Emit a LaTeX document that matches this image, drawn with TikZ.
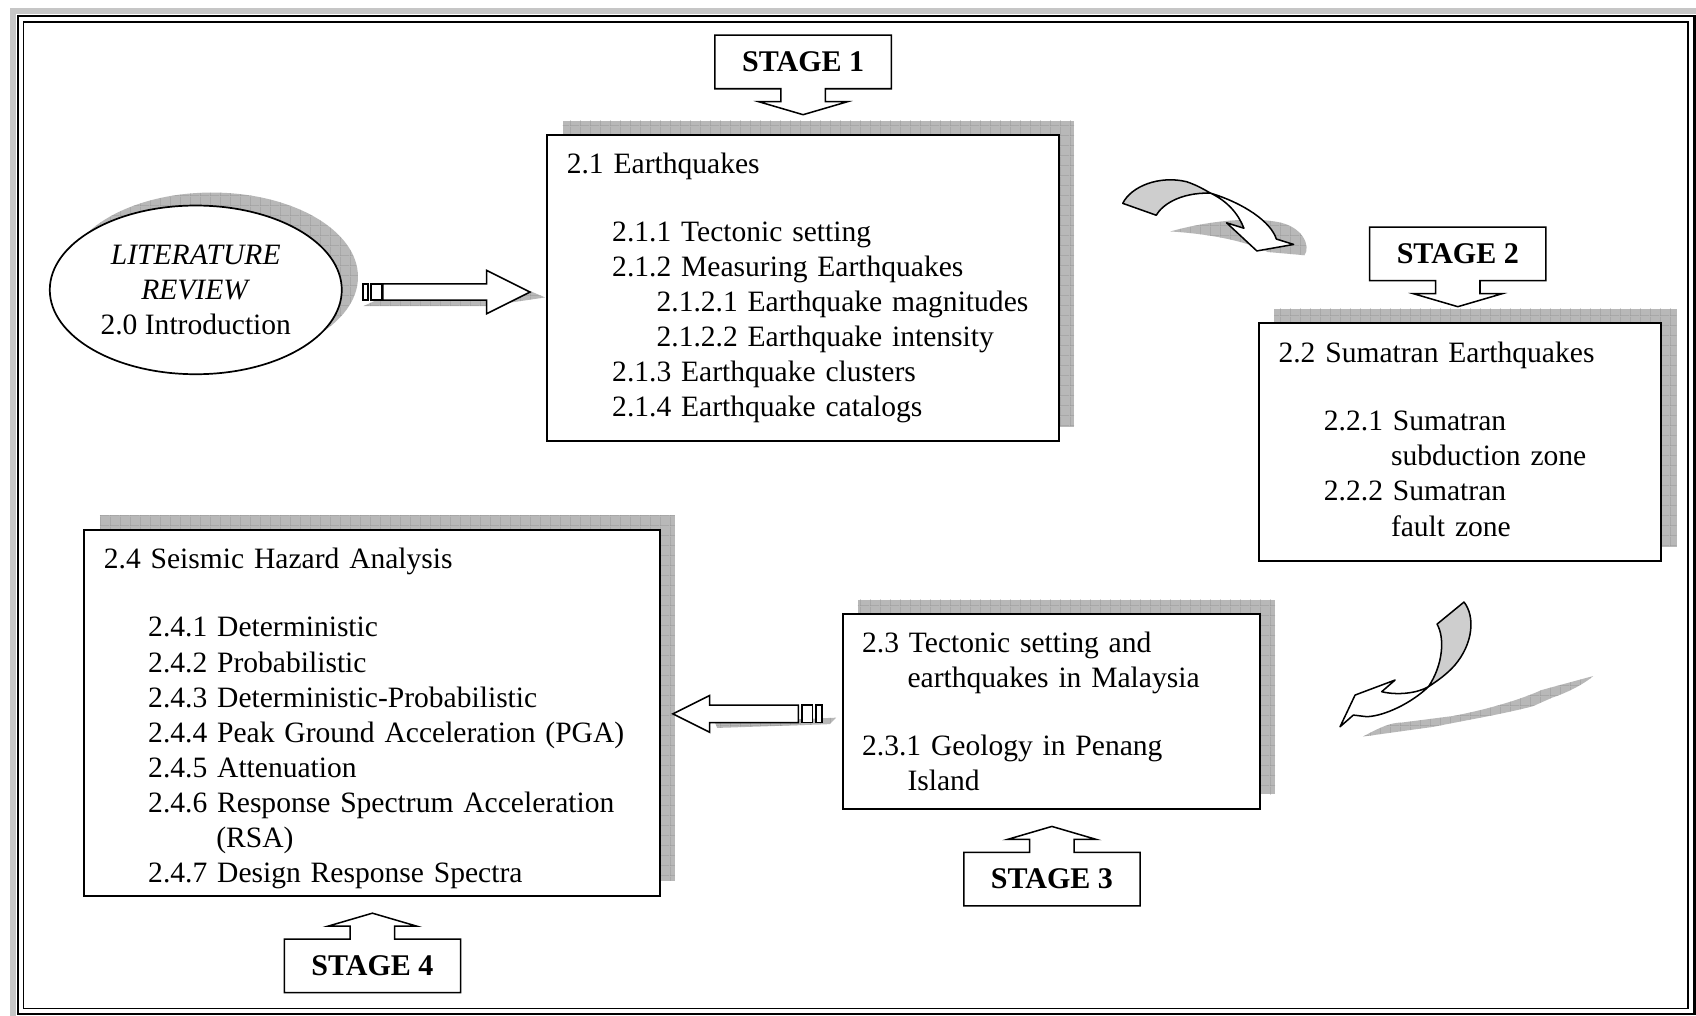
\documentclass[tikz,border=0pt]{standalone}
\usepackage{fontspec}
\setmainfont{Liberation Serif}
\usetikzlibrary{shapes.geometric,shadows,calc,patterns.meta}
\definecolor{shadegray}{RGB}{184,184,184}
\definecolor{gridgray}{RGB}{140,140,140}
\definecolor{facegray}{RGB}{206,206,206}
\tikzdeclarepattern{
  name=shadegrid,
  type=uncolored,
  bounding box={(0cm,0cm) and (0.185cm,0.185cm)},
  tile size={(0.185cm,0.185cm)},
  code={\draw[line width=0.35pt] (0cm,0cm) -- (0.185cm,0cm); \draw[line width=0.35pt] (0cm,0cm) -- (0cm,0.185cm);}
}
\tikzset{
  gridshade/.style={fill=shadegray, opacity=1, postaction={pattern=shadegrid, pattern color=gridgray}},
  secbox/.style={draw, line width=1pt, fill=white, align=left, inner xsep=0.36cm, inner ysep=0pt,
                 outer sep=0pt, drop shadow={shadow xshift=0.28cm, shadow yshift=0.27cm, gridshade}},
  litell/.style={ellipse, draw, line width=0.9pt, fill=white, minimum width=5.4cm, minimum height=3.12cm,
                 inner sep=0pt, outer sep=0pt, align=center,
                 drop shadow={shadow xshift=0.3cm, shadow yshift=0.24cm, gridshade}},
  stagetxt/.style={minimum width=3.26cm, minimum height=0.99cm, inner sep=0pt, outer sep=0pt,
                   font=\fontsize{15.8}{18.44}\selectfont\bfseries},
  callout/.style={draw, line width=0.8pt},
  blockarr/.style={draw, line width=0.8pt, fill=white},
  bendface/.style={draw, line width=0.8pt, fill=white, line join=round},
  twistface/.style={draw, line width=0.8pt, fill=facegray, line join=round},
  flatshade/.style={fill=shadegray, postaction={pattern=shadegrid, pattern color=gridgray}},
}
\newcommand{\calldown}[1]{%
  \draw[callout] (#1.south west) -- (#1.north west) -- (#1.north east) -- (#1.south east)
    -- ++(-61,0) -- ++(0,12) -- ++(20.5,0) -- ++(-41,12) -- ++(-41,-12) -- ++(20.5,0) -- ++(0,-12) -- cycle;}
\newcommand{\callup}[1]{%
  \draw[callout] (#1.north west) -- (#1.south west) -- (#1.south east) -- (#1.north east)
    -- ++(-61,0) -- ++(0,-12) -- ++(20.5,0) -- ++(-41,-12) -- ++(-41,12) -- ++(20.5,0) -- ++(0,12) -- cycle;}

\begin{document}
\begin{tikzpicture}[x=0.02cm, y=-0.02cm, font=\fontsize{15.55}{18.44}\selectfont]
  \useasboundingbox (0,0) rectangle (1568,939);
  % page frame
  \draw[shadegray!80, line width=0.12cm] (12,939) -- (12,10) -- (1568,10);
  \draw[line width=1.3pt] (16.6,14.8) rectangle (1566.4,937.6);
  \draw[line width=0.6pt] (22,20.3) rectangle (1560.6,932);

  % sections
  \node[litell] (lit) at (181,268) {\textit{LITERATURE}\\\textit{REVIEW}\\2.0 Introduction};
  \node[secbox, minimum width=9.46cm, minimum height=5.66cm, text width=8.74cm] (eq) at (742.5,266.5)
    {2.1 Earthquakes\\[17.4pt]
     \hspace*{0.84cm}2.1.1 Tectonic setting\\
     \hspace*{0.84cm}2.1.2 Measuring Earthquakes\\
     \hspace*{1.66cm}2.1.2.1 Earthquake magnitudes\\
     \hspace*{1.66cm}2.1.2.2 Earthquake intensity\\
     \hspace*{0.84cm}2.1.3 Earthquake clusters\\
     \hspace*{0.84cm}2.1.4 Earthquake catalogs};
  \node[secbox, minimum width=7.44cm, minimum height=4.4cm, text width=6.72cm] (sum) at (1350,409)
    {2.2 Sumatran Earthquakes\\[17.4pt]
     \hspace*{0.84cm}2.2.1 Sumatran\\
     \hspace*{2.08cm}subduction zone\\
     \hspace*{0.84cm}2.2.2 Sumatran\\
     \hspace*{2.08cm}fault zone\rule[-3.4pt]{0pt}{0pt}};
  \node[secbox, minimum width=7.72cm, minimum height=3.6cm, text width=7.0cm] (mal) at (972,658)
    {2.3 Tectonic setting and\\
     \hspace*{0.84cm}earthquakes in Malaysia\\[17.4pt]
     2.3.1 Geology in Penang\\
     \hspace*{0.84cm}Island};
  \node[secbox, minimum width=10.64cm, minimum height=6.76cm, text width=9.92cm] (sha) at (344,659)
    {\rule{0pt}{16.8pt}2.4 Seismic Hazard Analysis\\[17.4pt]
     \hspace*{0.82cm}2.4.1 Deterministic\\
     \hspace*{0.82cm}2.4.2 Probabilistic\\
     \hspace*{0.82cm}2.4.3 Deterministic-Probabilistic\\
     \hspace*{0.82cm}2.4.4 Peak Ground Acceleration (PGA)\\
     \hspace*{0.82cm}2.4.5 Attenuation\\
     \hspace*{0.82cm}2.4.6 Response Spectrum Acceleration\\
     \hspace*{2.08cm}(RSA)\\
     \hspace*{0.82cm}2.4.7 Design Response Spectra};

  % stage callouts
  \node[stagetxt] (s1) at (742.5,57.3) {STAGE 1};
  \calldown{s1}
  \node[stagetxt] (s2) at (1347.8,234.8) {STAGE 2};
  \calldown{s2}
  \node[stagetxt] (s3) at (972.5,812.8) {STAGE 3};
  \callup{s3}
  \node[stagetxt] (s4) at (344.3,893) {STAGE 4};
  \callup{s4}

  % striped arrow, 2.0 -> 2.1
  \begin{scope}[shift={(lit.east)}]
    \fill[flatshade] (20,15) -- (32,9.5) -- (134,9.5) -- (174,1) -- (188,7) -- (134,15) -- cycle;
    \draw[blockarr] (19.6,-5.5) rectangle (24.2,9.5);
    \draw[blockarr] (27,-5.5) rectangle (37,9.5);
    \draw[blockarr] (38,-5.5) -- (134,-5.5) -- (134,-18) -- (174,2) -- (134,22) -- (134,9.5) -- (38,9.5) -- cycle;
  \end{scope}

  % striped arrow, 2.3 -> 2.4
  \begin{scope}[shift={(mal.west)}]
    \fill[flatshade] (-118,10) -- (-6,5.5) -- (-12,11.5) -- (-116,15) -- cycle;
    \draw[blockarr] (-24.5,-6) rectangle (-19,10);
    \draw[blockarr] (-37.5,-6) rectangle (-28,10);
    \draw[blockarr] (-41,-6) -- (-123,-6) -- (-123,-15) -- (-157,2) -- (-123,19) -- (-123,10) -- (-41,10) -- cycle;
  \end{scope}

  % bent arrow, 2.1 -> 2.2
  \fill[flatshade] (1082,214) .. controls (1110,206) and (1150,200) .. (1180,205)
    .. controls (1205,209) and (1212,228) .. (1206,236) -- (1172,233)
    .. controls (1150,222) and (1115,216) .. (1082,214) -- cycle;
  \draw[twistface] (1038,188) .. controls (1046,172) and (1072,162) .. (1097,168)
    .. controls (1106,171) and (1113,175) .. (1119,178.5)
    .. controls (1090,178) and (1074,190) .. (1069,199) -- cycle;
  \draw[bendface] (1119,178.5) .. controls (1150,188) and (1175,205) .. (1180,221)
    -- (1196,226) -- (1162,232) -- (1134,206) -- (1150,211)
    .. controls (1145,198) and (1135,186) .. (1119,178.5) -- cycle;

  % bent arrow, 2.2 -> 2.3
  \fill[flatshade] (1260,681) .. controls (1275,673) and (1285,668) .. (1296,668) -- (1343,662)
    .. controls (1380,655) and (1410,645) .. (1425,638) -- (1473,625)
    .. controls (1465,632) and (1450,640) .. (1435,645) -- (1417,653)
    .. controls (1390,660) and (1360,665) .. (1325,672) -- cycle;
  \draw[twistface] (1328.6,577) -- (1353.5,556.6) .. controls (1364,570) and (1362,595) .. (1345,615)
    .. controls (1337,624) and (1328,630) .. (1320.6,634.9)
    .. controls (1334,615) and (1336,590) .. (1328.6,577) -- cycle;
  \draw[bendface] (1320.6,634.9) .. controls (1310,641) and (1292,643) .. (1277.4,639.5)
    -- (1289.8,628.7) -- (1252.8,642.6) -- (1238.9,671.9) -- (1251.2,661.1) -- (1263.6,662.6)
    .. controls (1280,662) and (1305,650) .. (1320.6,634.9) -- cycle;
\end{tikzpicture}
\end{document}
